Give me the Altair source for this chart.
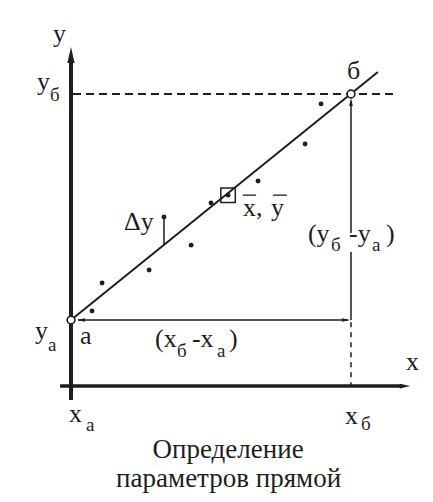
import altair as alt
import pandas as pd

# ---- data (abstract units: x_a = 0, x_b = 10, y_a = 0, y_b = 8) ----
# scattered experimental points
dot_x = [0.75, 1.11, 2.79, 3.32, 4.29, 5.00, 6.68, 8.36, 8.93]
dot_y = [0.32, 1.31, 1.77, 3.65, 2.65, 4.14, 4.92, 6.23, 7.65]
# centre of gravity (x̄, ȳ)
mean_x = [5.61]
mean_y = [4.42]
# points a and б on the straight line
pt_x = [0.0, 10.0]
pt_y = [0.0, 8.0]

# line segments of the drawing
seg_kind = ["yaxis", "xaxis", "fit", "dash_h", "dash_v", "arrow_v", "arrow_v",
            "arrow_h", "stem", "bar", "bar"]
seg_x = [0.0, -0.39, 0.0, 0.07, 10.0, 10.0, 10.0, 0.25, 3.32, 6.14, 7.21]
seg_y = [-2.83, -2.34, 0.0, 8.0, -0.08, 3.08, 2.41, 0.0, 3.65, 4.42, 4.42]
seg_x2 = [0.0, 11.82, 10.96, 11.50, 10.0, 10.0, 10.0, 9.90, 3.32, 6.61, 7.71]
seg_y2 = [9.35, -2.34, 8.78, 8.0, -2.34, 7.75, 0.0, 0.0, 2.66, 4.42, 4.42]

# arrow heads
head_kind = ["big_y", "big_x", "small", "small", "small"]
head_x = [0.0, 11.93, 10.0, 0.36, 9.82]
head_y = [9.38, -2.34, 7.72, 0.0, 0.0]
head_ang = [0, 90, 0, 270, 90]

# labels (left aligned, baseline)
lab_text = ["y", "y", "б", "y", "а", "а", "б", "x", "x", "а", "x", "б", "Δy",
            "(y", "б", "-y", "а", ")", "(x", "б", "-x", "а", ")", "x,", "y"]
lab_x = [-0.64, -1.21, -0.75, -1.29, -0.82, 0.32, 9.86, 11.96, -0.07, 0.54, 9.79,
         10.36, 1.89, 8.46, 9.29, 9.93, 10.75, 11.25, 3.00, 3.79, 4.32, 5.21,
         5.64, 6.14, 7.14]
lab_y = [9.84, 8.14, 7.75, -0.69, -1.10, -0.85, 8.53, -1.77, -3.61, -3.93, -3.68,
         -3.89, 3.19, 2.76, 2.44, 2.76, 2.44, 2.76, -0.96, -1.31, -0.96, -1.31,
         -0.96, 3.68, 3.68]
lab_main = [True, True, False, True, False, True, True, True, True, False, True,
            False, True, True, False, True, False, True, True, False, True, False,
            True, True, True]

title_lines = ["Определение", "параметров прямой"]
title_x = [5.61, 5.63]
title_y = [-4.88, -5.91]

# ---- tables ----
dots = pd.DataFrame({"x": dot_x, "y": dot_y})
mean = pd.DataFrame({"x": mean_x, "y": mean_y})
pts = pd.DataFrame({"x": pt_x, "y": pt_y})
segs = pd.DataFrame({"kind": seg_kind, "x": seg_x, "y": seg_y, "x2": seg_x2, "y2": seg_y2})
heads = pd.DataFrame({"kind": head_kind, "x": head_x, "y": head_y, "ang": head_ang})
labels = pd.DataFrame({"text": lab_text, "x": lab_x, "y": lab_y, "main": lab_main})
titles = pd.DataFrame({"text": title_lines, "x": title_x, "y": title_y})

INK = "#1e1e1e"
FONT = "Liberation Serif"
xs = alt.Scale(domain=[-2.25, 12.643], nice=False, zero=False)
ys = alt.Scale(domain=[-6.159, 11.044], nice=False, zero=False)
X = alt.X("x:Q", scale=xs, axis=None)
Y = alt.Y("y:Q", scale=ys, axis=None)


def rules(kind, **style):
    return (alt.Chart(segs).transform_filter(alt.datum.kind == kind)
            .mark_rule(color=INK, **style)
            .encode(x=X, y=Y, x2="x2:Q", y2="y2:Q"))


layers = [
    rules("yaxis", strokeWidth=4),
    rules("xaxis", strokeWidth=3.5),
    rules("fit", strokeWidth=2),
    rules("dash_h", strokeWidth=1.8, strokeDash=[8, 5]),
    rules("dash_v", strokeWidth=1.5, strokeDash=[5, 5]),
    rules("arrow_v", strokeWidth=1.5),
    rules("arrow_h", strokeWidth=1.5),
    rules("stem", strokeWidth=1.5),
    rules("bar", strokeWidth=1.3),
]

UP = "M0,-1L0.45,1L-0.45,1Z"
for kind, size in [("big_y", 256), ("big_x", 110), ("small", 64)]:
    layers.append(
        alt.Chart(heads).transform_filter(alt.datum.kind == kind)
        .mark_point(shape=UP, filled=True, color=INK, size=size, opacity=1)
        .encode(x=X, y=Y, angle=alt.Angle("ang:Q", scale=None))
    )


def texts(df, size, align="left"):
    return (alt.Chart(df)
            .mark_text(font=FONT, fontSize=size, align=align, baseline="alphabetic",
                       color=INK)
            .encode(x=X, y=Y, text="text:N"))


layers += [
    alt.Chart(dots).mark_circle(size=24, color=INK, opacity=1).encode(x=X, y=Y),
    alt.Chart(mean).mark_circle(size=24, color=INK, opacity=1).encode(x=X, y=Y),
    alt.Chart(mean).mark_point(shape="square", size=210, filled=False, color=INK,
                               strokeWidth=1.5, opacity=1).encode(x=X, y=Y),
    alt.Chart(pts).mark_point(shape="circle", size=60, filled=True, fill="white",
                              stroke=INK, strokeWidth=1.6, opacity=1).encode(x=X, y=Y),
    texts(labels[labels["main"]][["text", "x", "y"]], 26),
    texts(labels[~labels["main"]][["text", "x", "y"]], 19),
    texts(titles, 27, align="center"),
]

chart = (alt.layer(*layers)
         .properties(width=417, height=486, padding=0,
                     autosize=alt.AutoSizeParams(type="none"),
                     background="white")
         .configure_view(strokeWidth=0)
         .configure_text(font=FONT))

chart.save("out.html", embed_options={"renderer": "svg", "actions": False})
